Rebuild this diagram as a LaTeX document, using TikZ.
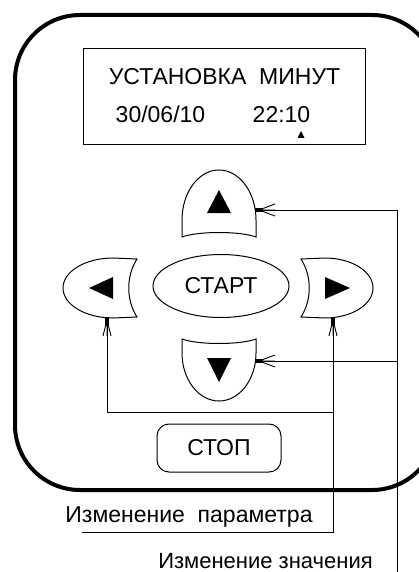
\documentclass[tikz,border=0pt]{standalone}
\usepackage{fontspec}
\setmainfont{Liberation Sans}
\usetikzlibrary{shapes.geometric}
\newcommand\tipH[1]{\begin{scope}[shift={(#1)}]
  \fill (0,-2) rectangle (8,2);
  \draw[thinline] (8,0)--(20,0) (8,1.5)--(20,6) (8,-1.5)--(20,-6);
\end{scope}}
\newcommand\tipV[1]{\begin{scope}[shift={(#1)}]
  \fill (-2,0) rectangle (2,9);
  \draw[thinline] (0,9)--(0,19) (1.5,9)--(4,19) (-1.5,9)--(-4,19);
\end{scope}}
\begin{document}
\begin{tikzpicture}[x=1pt,y=-1pt,
  thinline/.style={line width=0.9pt},
  btn/.style={line width=1pt},
  big/.style={font=\fontsize{23}{26}\selectfont},
  lbl/.style={inner sep=0pt, big, anchor=base}]
\useasboundingbox (0,0) rectangle (419,572);
\begin{scope}
  \clip (0,0) rectangle (419,572);
  \draw[line width=4pt, rounded corners=65pt] (15,15) rectangle (437,490);
\end{scope}
% display
\node[draw, thinline, minimum width=282pt, minimum height=96pt, inner sep=0pt] (display) at (224,96) {};
\node[lbl] (title) at (224.5,85) {УСТАНОВКА\ \ МИНУТ};
\node[lbl] (date) at (160.5,123) {30/06/10};
\node[lbl] (time) at (281.5,123) {22:10};
\fill (301,131) -- (304.5,138) -- (297.5,138) -- cycle;
% up button
\draw[btn] (182,237) -- (182,220) arc[start angle=180, end angle=360, x radius=37, y radius=50]
  -- (256,237) .. controls (240,231) and (198,231) .. (182,237) -- cycle;
\fill (219,190) -- (231,213) -- (207,213) -- cycle;
% down button
\draw[btn] (182,339) -- (182,353) arc[start angle=180, end angle=0, x radius=37, y radius=48]
  -- (256,339) .. controls (240,345) and (198,345) .. (182,339) -- cycle;
\fill (219,382) -- (231,358) -- (207,358) -- cycle;
% left button
\draw[btn] (137,259) -- (113,258) arc[start angle=270, end angle=90, x radius=50, y radius=30]
  -- (137,317) .. controls (126,300) and (126,276) .. (137,259) -- cycle;
\fill (89,288) -- (113,277) -- (113,299) -- cycle;
% right button
\draw[btn] (301,259) -- (325,258) arc[start angle=270, end angle=450, x radius=48, y radius=30]
  -- (301,317) .. controls (312,300) and (312,276) .. (301,259) -- cycle;
\fill (350,288) -- (325,277) -- (325,299) -- cycle;
% start / stop
\node[draw, btn, ellipse, minimum width=136pt, minimum height=63pt, inner sep=0pt, big] (start) at (221,286) {СТАРТ};
\node[draw, btn, rounded corners=12pt, minimum width=124pt, minimum height=48pt, inner sep=0pt, big] (stop) at (219,448) {СТОП};
% connector points
\coordinate (upR) at (255,210);
\coordinate (downR) at (255,361);
\coordinate (leftB) at (107,317);
\coordinate (rightB) at (333,317);
\coordinate (railR) at (397,572);
\coordinate (jR) at (397,361);
\coordinate (jL) at (333,412);
\coordinate (pEnd) at (82,532);
\draw[thinline] (upR) -| (railR);
\draw[thinline] (downR) -- (jR);
\draw[thinline] (leftB) |- (jL);
\draw[thinline] (rightB) |- (pEnd);
\tipH{upR}
\tipH{downR}
\tipV{leftB}
\tipV{rightB}
% labels
\node[lbl] (lparam) at (189,522) {Изменение\ \ параметра};
\node[lbl, font=\fontsize{22}{25}\selectfont] (lvalue) at (265.5,568) {Изменение значения};
\end{tikzpicture}
\end{document}
